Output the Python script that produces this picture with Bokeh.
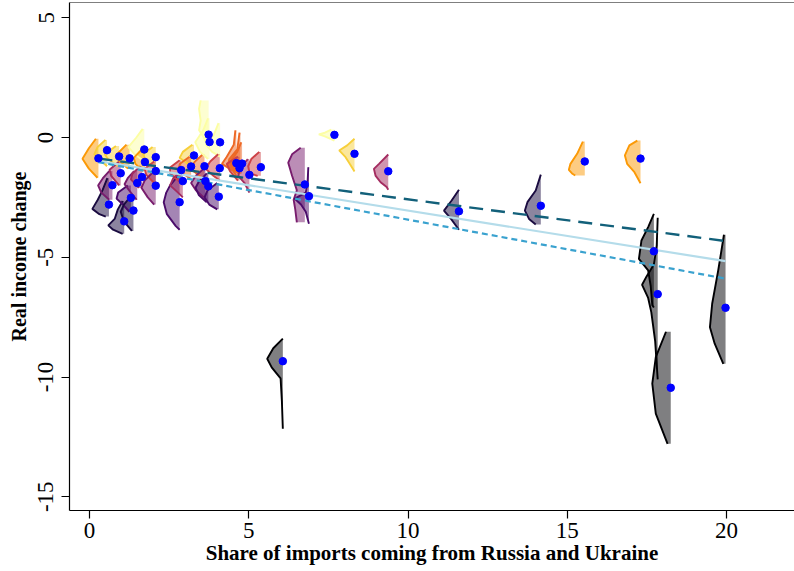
import numpy as np
from bokeh.plotting import figure
from bokeh.models import Range1d, Span, FixedTicker
from bokeh.palettes import Inferno10
from bokeh.embed import file_html
from bokeh.resources import INLINE

# ---- data ----
x_share = [0.28, 0.55, 0.61, 0.72, 0.93, 0.98, 1.09, 1.26, 1.30, 1.38,
           1.50, 1.65, 1.72, 1.74, 2.08, 2.08, 2.08, 2.83, 2.88, 2.93,
           3.28, 3.19, 3.61, 3.74, 3.77, 4.10, 4.09, 3.64, 3.73, 4.06,
           4.61, 4.74, 4.79, 4.71, 5.02, 5.38, 6.76, 6.89, 6.07, 7.69,
           8.32, 9.38, 11.60, 14.17, 15.55, 17.30, 17.72, 17.84, 18.25, 19.97]
y_change = [-0.87, -0.53, -2.80, -1.99, -0.79, -1.49, -3.50, -0.87, -2.52, -3.05,
            -1.90, -1.65, -0.50, -1.02, -0.82, -1.40, -2.01, -2.70, -1.36, -1.82,
            -0.75, -1.21, -1.20, 0.12, -0.19, -0.20, -1.28, -1.82, -2.04, -2.47,
            -1.07, -1.13, -1.09, -1.28, -1.56, -1.24, -1.96, -2.45, -9.34, 0.11,
            -0.68, -1.41, -3.08, -2.85, -1.00, -0.88, -4.75, -6.54, -10.45, -7.11]

# density profile of each half-violin: levels (y) and half widths (x units)
vio_levels = [
    [-0.05, -0.45, -0.89, -1.30, -1.68],
    [-0.10, -0.40, -0.70, -1.00, -1.20],
    [-1.70, -2.20, -2.60, -2.98, -3.20, -3.30],
    [-1.40, -1.70, -2.00, -2.30, -2.60],
    [-0.35, -0.70, -0.90, -1.20],
    [-1.00, -1.35, -1.60, -2.00],
    [-2.65, -3.00, -3.40, -3.67, -3.85, -4.02],
    [-0.30, -0.70, -0.95, -1.30],
    [-2.00, -2.30, -2.55, -2.80, -3.10],
    [-2.40, -2.80, -3.10, -3.50, -3.90],
    [-1.40, -1.70, -1.95, -2.30, -2.60],
    [-1.20, -1.50, -1.75, -2.10],
    [0.36, 0.00, -0.40, -0.70, -1.00],
    [-0.50, -0.85, -1.10, -1.40],
    [-0.40, -0.70, -1.00, -1.30],
    [-1.00, -1.30, -1.55, -1.90],
    [-1.40, -1.80, -2.10, -2.50, -2.80],
    [-1.60, -2.00, -2.30, -2.70, -3.20, -3.70, -3.85],
    [-0.95, -1.25, -1.50, -1.85],
    [-1.40, -1.70, -2.00, -2.30, -2.50],
    [-0.30, -0.60, -0.85, -1.10, -1.30],
    [-0.80, -1.10, -1.35, -1.70],
    [-0.70, -1.00, -1.30, -1.60, -1.80],
    [1.55, 1.20, 0.70, 0.30, 0.00, -0.30],
    [0.80, 0.30, -0.20, -0.60, -0.90],
    [0.60, 0.10, -0.30, -0.60, -0.80],
    [-0.70, -1.00, -1.30, -1.60, -1.80],
    [-1.30, -1.60, -1.90, -2.20, -2.50],
    [-1.50, -1.85, -2.10, -2.40, -2.70],
    [-1.90, -2.20, -2.50, -2.80, -3.00],
    [0.30, -0.30, -0.80, -1.10, -1.40, -1.60],
    [0.20, -0.50, -0.90, -1.20, -1.50],
    [-0.20, -0.60, -0.95, -1.20, -1.50],
    [-0.80, -1.10, -1.40, -1.80],
    [-0.90, -1.30, -1.60, -1.90, -2.30],
    [-0.60, -0.90, -1.20, -1.50, -1.60],
    [-0.43, -0.70, -1.05, -1.60, -2.20, -2.60, -3.00, -3.54],
    [-1.24, -1.80, -2.30, -2.55, -2.80, -3.10, -3.60],
    [-8.40, -8.80, -9.24, -9.60, -10.06, -11.00, -12.16],
    [0.33, 0.20, 0.13, 0.05, -0.13],
    [-0.05, -0.33, -0.54, -0.82, -1.10, -1.42],
    [-0.71, -1.10, -1.31, -1.59, -1.87, -2.07, -2.18],
    [-2.18, -2.63, -3.05, -3.40, -3.85],
    [-1.55, -2.21, -2.70, -3.05, -3.40, -3.63],
    [-0.17, -0.68, -1.10, -1.35, -1.50, -1.59],
    [-0.13, -0.33, -0.75, -1.10, -1.45, -1.91],
    [-3.19, -3.74, -4.30, -5.07, -5.55, -6.20, -7.00, -7.10],
    [-3.35, -4.50, -5.30, -5.80, -6.15, -6.70, -7.30, -8.50, -10.10],
    [-8.11, -9.17, -10.28, -11.53, -12.79],
    [-4.06, -5.55, -6.94, -7.92, -8.61, -9.45],
]
vio_widths = [
    [0.08, 0.30, 0.50, 0.30, 0.03],
    [0.05, 0.30, 0.40, 0.15, 0.00],
    [0.05, 0.20, 0.35, 0.52, 0.30, 0.10],
    [0.10, 0.30, 0.45, 0.35, 0.10],
    [0.10, 0.45, 0.35, 0.05],
    [0.05, 0.35, 0.30, 0.05],
    [0.05, 0.20, 0.30, 0.50, 0.35, 0.05],
    [0.10, 0.40, 0.35, 0.05],
    [0.10, 0.40, 0.45, 0.25, 0.05],
    [0.05, 0.30, 0.40, 0.30, 0.05],
    [0.10, 0.30, 0.40, 0.20, 0.02],
    [0.05, 0.30, 0.35, 0.10],
    [0.05, 0.25, 0.50, 0.30, 0.00],
    [0.10, 0.35, 0.30, 0.05],
    [0.10, 0.40, 0.30, 0.00],
    [0.05, 0.35, 0.30, 0.05],
    [0.05, 0.35, 0.45, 0.25, 0.05],
    [0.05, 0.30, 0.42, 0.50, 0.40, 0.12, 0.00],
    [0.05, 0.35, 0.35, 0.05],
    [0.05, 0.30, 0.40, 0.15, 0.00],
    [0.05, 0.35, 0.45, 0.20, 0.00],
    [0.05, 0.35, 0.40, 0.05],
    [0.05, 0.30, 0.45, 0.15, 0.00],
    [0.25, 0.30, 0.25, 0.30, 0.15, 0.05],
    [0.05, 0.20, 0.45, 0.30, 0.05],
    [0.05, 0.20, 0.45, 0.25, 0.00],
    [0.05, 0.30, 0.45, 0.20, 0.00],
    [0.05, 0.30, 0.45, 0.30, 0.05],
    [0.05, 0.30, 0.40, 0.30, 0.05],
    [0.05, 0.35, 0.45, 0.30, 0.05],
    [0.03, 0.08, 0.30, 0.45, 0.10, 0.00],
    [0.03, 0.10, 0.35, 0.40, 0.05],
    [0.03, 0.15, 0.35, 0.35, 0.05],
    [0.05, 0.40, 0.30, 0.05],
    [0.05, 0.30, 0.35, 0.15, 0.00],
    [0.05, 0.30, 0.40, 0.35, 0.10],
    [0.13, 0.40, 0.52, 0.40, 0.25, 0.35, 0.30, 0.25],
    [0.02, 0.04, 0.10, 0.45, 0.25, 0.10, 0.00],
    [0.00, 0.30, 0.49, 0.35, 0.07, 0.03, 0.00],
    [0.10, 0.30, 0.49, 0.30, 0.00],
    [0.00, 0.23, 0.48, 0.28, 0.15, 0.00],
    [0.00, 0.29, 0.45, 0.40, 0.24, 0.05, 0.00],
    [0.00, 0.23, 0.47, 0.25, 0.00],
    [0.00, 0.16, 0.42, 0.50, 0.37, 0.16],
    [0.06, 0.24, 0.45, 0.50, 0.40, 0.30],
    [0.10, 0.35, 0.49, 0.42, 0.19, 0.00],
    [0.00, 0.18, 0.39, 0.47, 0.18, 0.10, 0.05, 0.00],
    [0.00, 0.03, 0.12, 0.35, 0.49, 0.30, 0.20, 0.08, 0.00],
    [0.15, 0.47, 0.58, 0.47, 0.10],
    [0.05, 0.23, 0.42, 0.49, 0.34, 0.07],
]

# three fitted lines: intercept, slope
fit_names = ["long dash", "solid", "dotted"]
fit_intercept = [-0.83, -0.93, -0.96]
fit_slope = [-0.175, -0.212, -0.247]
fit_colors = ["#12607a", "#b4dcea", "#3aa2cf"]
fit_dash = ["14 8", "solid", "6 4"]
fit_width = [2.4, 2.2, 2.2]

x_ticks = [0, 5, 10, 15, 20]
y_ticks = [-15, -10, -5, 0, 5]

# ---- figure ----
FONT = "Liberation Serif"
xr = Range1d(-0.628, 22.135)
yr = Range1d(-15.574, 5.637)
p = figure(width=794, height=568, x_range=xr, y_range=yr,
           output_backend="svg", toolbar_location=None,
           min_border_left=69, min_border_right=0, min_border_top=2,
           min_border_bottom=58)
p.grid.visible = False
p.outline_line_color = None
p.background_fill_color = "white"
p.border_fill_color = "white"

# colour by decile of the value (inferno palette, high -> light)
pal = list(reversed(Inferno10))
n = len(y_change)
order = np.argsort(-np.array(y_change), kind="stable")
bins = np.empty(n, dtype=int)
for rank, idx in enumerate(order):
    bins[idx] = min(9, rank * 10 // n)

fx, fy, fc, lx, ly, lc = [], [], [], [], [], []
for i in range(n):
    x0 = x_share[i]
    lv = np.array(vio_levels[i])
    w = np.array(vio_widths[i])
    cx = list(x0 - w)
    cy = list(lv)
    fx.append(cx + [x0, x0])
    fy.append(cy + [lv[-1], lv[0]])
    fc.append(pal[bins[i]])
    lx.append(cx)
    ly.append(cy)
    lc.append(pal[bins[i]])

p.patches(fx, fy, fill_color=fc, fill_alpha=0.5, line_color=None)
p.multi_line(lx, ly, line_color=lc, line_width=1.9)

xmin, xmax = min(x_share), max(x_share)
for a, b, c, d, lw in zip(fit_intercept, fit_slope, fit_colors, fit_dash, fit_width):
    p.line([xmin, xmax], [a + b * xmin, a + b * xmax], line_color=c,
           line_dash=d, line_width=lw)

p.scatter(x_share, y_change, size=7.5, fill_color="blue", line_color="blue")

# top frame line
p.add_layout(Span(location=yr.end, dimension="width", line_color="black", line_width=1.2))

for ax in (p.xaxis[0], p.yaxis[0]):
    ax.major_label_text_font = FONT
    ax.major_label_text_font_size = "23px"
    ax.major_label_text_color = "black"
    ax.axis_label_text_font = FONT
    ax.axis_label_text_font_style = "bold"
    ax.axis_label_text_color = "black"
    ax.major_tick_out = 8
    ax.major_tick_in = 0
    ax.minor_tick_line_color = None
    ax.axis_line_color = "black"
    ax.axis_line_width = 1.2
    ax.major_tick_line_width = 1.2

p.xaxis.ticker = FixedTicker(ticks=x_ticks)
p.yaxis.ticker = FixedTicker(ticks=y_ticks)
p.xaxis.major_label_overrides = {t: str(t) for t in x_ticks}
p.yaxis.major_label_overrides = {t: str(t) for t in y_ticks}
p.xaxis.axis_label = "Share of imports coming from Russia and Ukraine"
p.yaxis.axis_label = "Real income change"
p.xaxis.axis_label_text_font_size = "21px"
p.yaxis.axis_label_text_font_size = "20px"
p.xaxis.major_label_standoff = 4
p.xaxis.axis_label_standoff = 0
p.yaxis.major_label_orientation = "vertical"
p.yaxis.major_label_standoff = 8
p.yaxis.axis_label_standoff = 6

open("out.html", "w").write(file_html(p, INLINE))
